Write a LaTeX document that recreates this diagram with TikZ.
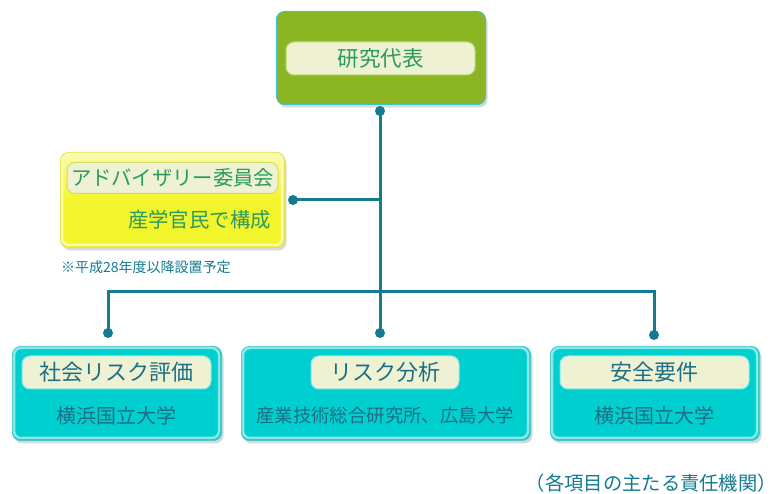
\documentclass[tikz,border=0pt]{standalone}
\usepackage{fontspec}
\setmainfont{Noto Sans CJK JP}
\usetikzlibrary{shadows}
\definecolor{topfill}{HTML}{8CB524}
\definecolor{topedge}{HTML}{3CC6CC}
\definecolor{cream}{HTML}{EEF2D2}
\definecolor{creamedge}{HTML}{B8D87A}
\definecolor{cyanfill}{HTML}{00CFCF}
\definecolor{cyanedge}{HTML}{4CC8CC}
\definecolor{cyanglow}{HTML}{8CE8E8}
\definecolor{yelfill}{HTML}{F3F52C}
\definecolor{yelglow}{HTML}{FAFAB4}
\definecolor{yeledge}{HTML}{E2E24A}
\definecolor{linecol}{HTML}{137A90}
\definecolor{tealtext}{HTML}{1D6E86}
\definecolor{greentext}{HTML}{2A9A5E}
\tikzset{
  boxshadow/.style={drop shadow={shadow xshift=2pt,shadow yshift=-3pt,opacity=0.25,fill=black!60}},
  topbox/.style={draw=topedge,line width=1pt,fill=topfill,rounded corners=8pt,anchor=north west,boxshadow},
  yelbox/.style={draw=yeledge,line width=1pt,top color=yelglow,bottom color=yelfill,middle color=yelfill,shading angle=0,rounded corners=8pt,anchor=north west,boxshadow},
  cybox/.style={draw=cyanedge,line width=1pt,fill=cyanfill,rounded corners=8pt,anchor=north west,boxshadow},
  glow/.style={draw=#1,line width=2.5pt,rounded corners=7pt,fill=none},
  label/.style={draw=creamedge,line width=1pt,fill=cream,rounded corners=8pt,minimum height=33pt,inner sep=0pt,font=\fontsize{22}{22}\selectfont},
  subtext/.style={text=tealtext,font=\fontsize{20}{20}\selectfont,inner sep=0pt},
  dotnode/.style={circle,fill=linecol,minimum size=10pt,inner sep=0pt},
  conn/.style={draw=linecol,line width=3pt},
}
\begin{document}
\begin{tikzpicture}[x=1pt,y=-1pt]
\useasboundingbox (0,0) rectangle (780,494);

% top box
\node[topbox,minimum width=209pt,minimum height=93pt] (top) at (276,11) {};
\node[label,minimum width=189pt,text=greentext,font=\fontsize{21.5}{21.5}\selectfont] (topl) at (380.5,58.5) {研究代表};

% advisory box
\node[yelbox,minimum width=224pt,minimum height=95pt] (adv) at (60,152) {};
\draw[glow=yelglow] (62,154) rectangle (282,245);
\node[label,draw=yeledge!60!creamedge,minimum width=211pt,minimum height=31pt,text=greentext,font=\fontsize{20.3}{20.3}\selectfont] (advl) at (172.5,178) {アドバイザリー委員会};
\node[text=greentext,font=\fontsize{20.4}{20.4}\selectfont,anchor=east,inner sep=0pt] (advs) at (271,220) {産学官民で構成};
\node[text=linecol,font=\fontsize{14}{14}\selectfont,anchor=west,inner sep=0pt] (note) at (61,267) {※平成28年度以降設置予定};

% bottom boxes
\node[cybox,minimum width=209pt,minimum height=94pt] (b1) at (12,346) {};
\draw[glow=cyanglow] (14,348) rectangle (219,438);
\node[label,draw=cyanglow,minimum width=189pt,text=tealtext] (b1l) at (116.5,372.5) {社会リスク評価};
\node[subtext] (b1s) at (116.5,415.5) {横浜国立大学};

\node[cybox,minimum width=289pt,minimum height=94pt] (b2) at (241,346) {};
\draw[glow=cyanglow] (243,348) rectangle (528,438);
\node[label,draw=cyanglow,minimum width=148pt,text=tealtext] (b2l) at (385,372.5) {リスク分析};
\node[subtext,font=\fontsize{18.4}{18.4}\selectfont] (b2s) at (385,415.5) {産業技術総合研究所、広島大学};

\node[cybox,minimum width=209pt,minimum height=94pt] (b3) at (550,346) {};
\draw[glow=cyanglow] (552,348) rectangle (757,438);
\node[label,draw=cyanglow,minimum width=189pt,text=tealtext] (b3l) at (654.5,372.5) {安全要件};
\node[subtext] (b3s) at (654.5,415.5) {横浜国立大学};

% footer
\node[text=linecol,font=\fontsize{19.3}{19.3}\selectfont,anchor=east,inner sep=0pt] (foot) at (777,483) {（各項目の主たる責任機関）};

% connectors
\node[dotnode] (d0) at (380,111) {};
\node[dotnode] (dadv) at (293,200) {};
\node[dotnode] (dL) at (108,333) {};
\node[dotnode] (dM) at (380,333) {};
\node[dotnode] (dR) at (654,335) {};
\coordinate (j1) at (380,200);
\coordinate (cL) at (108,292);
\coordinate (cR) at (654,292);
\draw[conn] (d0.center) -- (dM.center);
\draw[conn] (j1) -- (dadv.center);
\draw[conn] (dL.center) -- (cL) -- (cR) -- (dR.center);
\end{tikzpicture}
\end{document}
